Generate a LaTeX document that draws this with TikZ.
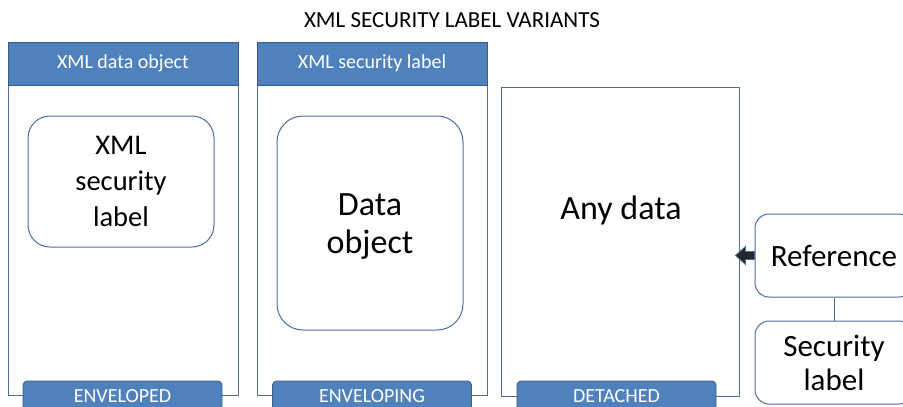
\documentclass[tikz,border=0pt]{standalone}
\usepackage{fontspec}
\setmainfont{Carlito}
\usetikzlibrary{calc}
\definecolor{hdr}{RGB}{79,129,189}
\definecolor{hdrb}{RGB}{56,93,138}
\definecolor{lin}{RGB}{79,110,160}
\begin{document}
\begin{tikzpicture}[x=1pt,y=-1pt,
  outerbox/.style={draw=lin,line width=1pt,fill=white,minimum width=230pt,inner sep=0pt},
  hdrbox/.style={draw=hdrb,line width=0.8pt,fill=hdr,text=white,font=\fontsize{20}{24}\selectfont,minimum width=230pt,minimum height=43pt,inner sep=0pt},
  tagbox/.style={draw=hdrb,line width=0.8pt,fill=hdr,text=white,font=\fontsize{20}{24}\selectfont,minimum width=199pt,minimum height=30pt,inner sep=0pt,rounded corners=4pt},
  roundbox/.style={draw=lin,line width=1pt,fill=white,rounded corners=22pt,align=center,inner sep=0pt,font=\fontsize{28.5}{36}\selectfont},
  bigtext/.style={font=\fontsize{34}{38}\selectfont,align=center}]
\useasboundingbox (0,0) rectangle (903,407);
\fill[white] (0,0) rectangle (903,407);
\node[font=\fontsize{23}{28}\selectfont] (title) at (452,20) {XML SECURITY LABEL VARIANTS};
% box 1
\node[outerbox,minimum height=353pt] (b1) at (123,218.5) {};
\node[hdrbox] (h1) at (123,63.5) {XML data object};
\node[roundbox,minimum width=186pt,minimum height=131pt] (r1) at (121,181.5) {XML\\security\\label};
\node[tagbox] (t1) at (122.5,396) {ENVELOPED};
% box 2
\node[outerbox,minimum height=353pt] (b2) at (372,218.5) {};
\node[hdrbox] (h2) at (372,63.5) {XML security label};
\node[roundbox,minimum width=186pt,minimum height=214pt,rounded corners=26pt] (r2) at (370,223) {};
\node[bigtext] (r2t) at ($(r2.center)+(0,4)$) {Data\\object};
\node[tagbox] (t2) at (372,396) {ENVELOPING};
% box 3
\node[outerbox,minimum width=238pt,minimum height=309pt] (b3) at (620,241.5) {};
\node[bigtext] (any) at (621,210) {Any data};
\node[tagbox] (t3) at (616.5,396) {DETACHED};
% reference side
\node[roundbox,minimum width=158pt,minimum height=83pt,rounded corners=14pt,font=\fontsize{31}{35}\selectfont] (ref) at (834,255.5) {Reference};
\node[roundbox,minimum width=158pt,minimum height=83pt,rounded corners=14pt,font=\fontsize{31}{34}\selectfont] (sec) at (834,362.5) {Security\\label};
\draw[lin,line width=0.8pt] (ref.south) -- (sec.north);
% block arrow
\draw[draw=lin,fill=black!85,line width=0.8pt]
  ($(ref.west)+(0,-4)$) -- ++(-9,0) -- ++(0,-5) -- ++(-10,9) -- ++(10,9) -- ++(0,-5) -- ++(9,0) -- cycle;
\end{tikzpicture}
\end{document}
